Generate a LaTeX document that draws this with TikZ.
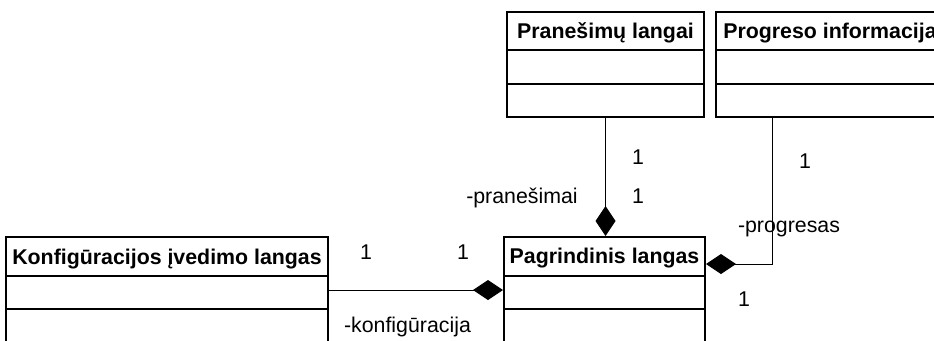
\documentclass[tikz,border=0pt]{standalone}
\usepackage{fontspec}
\setmainfont{Liberation Sans}
\usetikzlibrary{arrows.meta}
\begin{document}
\begin{tikzpicture}[x=0.75pt,y=-0.75pt,
  every node/.style={font=\fontsize{16}{19}\selectfont, inner sep=0pt},
  classbox/.style={draw, line width=1.5pt, rectangle, minimum height=78.75pt},
  title/.style={font=\fontsize{16}{19}\selectfont\bfseries, anchor=base},
  divider/.style={line width=1.5pt},
  assoc/.style={line width=0.75pt},
  comp/.style={assoc, -{Diamond[length=22.5pt,width=15pt]}},
  lbl/.style={anchor=base}]
\useasboundingbox (0,0) rectangle (934,340);

% class boxes
\node[classbox, minimum width=147.75pt] (pran) at (605.5,64.5) {};
\node[classbox, minimum width=171.75pt] (prog) at (830.5,64.5) {};
\node[classbox, minimum width=150.75pt, minimum height=84.75pt] (pagr) at (604.5,293.5) {};
\node[classbox, minimum width=241.5pt, minimum height=84.75pt] (konf) at (167,293.5) {};

% compartments
\foreach \b in {pran,prog}{
  \draw[divider] (\b.west |- 0,50) -- (\b.east |- 0,50);
  \draw[divider] (\b.west |- 0,84) -- (\b.east |- 0,84);
}
\foreach \b in {pagr,konf}{
  \draw[divider] (\b.west |- 0,276) -- (\b.east |- 0,276);
  \draw[divider] (\b.west |- 0,309) -- (\b.east |- 0,309);
}

% class names
\node[title] (tpran) at (605.5,38) {Pranešimų langai};
\node[title, anchor=base west] (tprog) at (723,38) {Progreso informacija};
\node[title] (tpagr) at (604.5,263.5) {Pagrindinis langas};
\node[title] (tkonf) at (167,264.5) {Konfigūracijos įvedimo langas};

% compositions
\draw[comp] (pran.south) -- (pran.south |- pagr.north);
\coordinate (progbend) at (772,264);
\draw[comp] (prog.south -| progbend) -- (progbend) -- (pagr.east |- progbend);
\coordinate (konfy) at (0,290);
\draw[comp] (konf.east |- konfy) -- (pagr.west |- konfy);

% multiplicities and roles
\node[lbl] (m1) at (638,164) {1};
\node[lbl] (m2) at (638,203) {1};
\node[lbl] (rpran) at (522,203) {-pranešimai};
\node[lbl] (m3) at (805,168) {1};
\node[lbl] (rprog) at (789,232) {-progresas};
\node[lbl] (m4) at (744,306) {1};
\node[lbl] (m5) at (366,259) {1};
\node[lbl] (m6) at (463,259) {1};
\node[lbl] (rkonf) at (407.5,332) {-konfigūracija};
\end{tikzpicture}
\end{document}
